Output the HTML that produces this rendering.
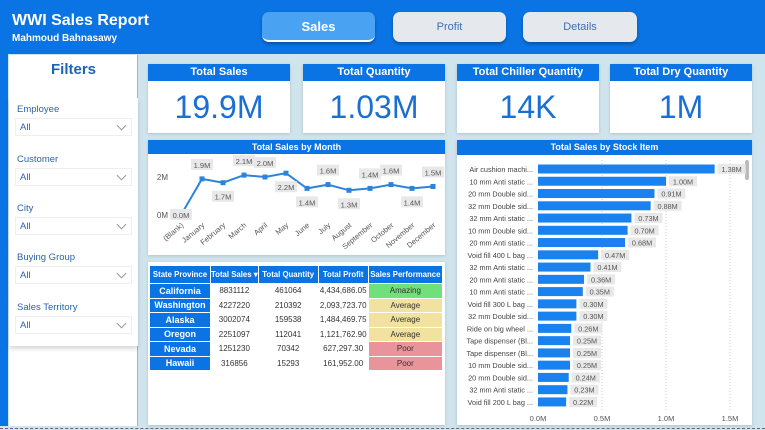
<!DOCTYPE html>
<html><head><meta charset="utf-8"><style>
*{box-sizing:border-box;margin:0;padding:0}
body{width:765px;height:430px;overflow:hidden;background:#cfe4ec;font-family:"Liberation Sans",sans-serif;position:relative}
.abs{position:absolute}
.hdr{left:0;top:0;width:765px;height:54px;background:#0a74e4}
.btn{top:12px;height:30px;border-radius:7px;font-size:11px;display:flex;align-items:center;justify-content:center;box-shadow:0 2px 3px rgba(0,0,0,.3)}
.card{background:#fff;box-shadow:0 1px 3px rgba(0,0,0,.15)}
.tbar{background:#0a74e4;color:#fff;font-weight:bold;text-align:center}
.kpi .tbar{height:17px;font-size:11px;line-height:17px}
.kpi .v{font-size:32px;color:#1b6fd1;text-align:center;margin-top:8px}
.slc{left:9px;width:129px;height:50px;background:#fff;box-shadow:0 3px 4px rgba(0,0,0,.15)}
.slc .l{position:absolute;left:8px;top:6px;font-size:9.5px;color:#2a62b0}
.slc .d{position:absolute;left:6px;top:20px;width:117px;height:18px;border:1px solid #eee;font-size:9.5px;color:#2a62b0;padding:3px 4px}
.slc .d:after{content:"";position:absolute;right:6px;top:3px;width:6px;height:6px;border-right:1px solid #999;border-bottom:1px solid #999;transform:rotate(45deg)}
table{border-collapse:separate;border-spacing:1px;font-size:8px}
td,th{height:13.5px;text-align:center;white-space:nowrap}
th{background:#0a74e4;color:#fff;font-weight:bold;height:17px;font-size:7.8px}
td.s{background:#0a74e4;color:#fff;font-weight:bold;font-size:9px}
td{color:#333}
</style></head><body>
<div class="abs hdr"></div>
<div class="abs" style="left:0;top:54px;width:8px;height:372px;background:#0a74e4"></div>
<div class="abs" style="left:12px;top:12px;color:#fff;font-weight:bold;font-size:16px">WWI Sales Report</div>
<div class="abs" style="left:12px;top:33px;color:#fff;font-weight:bold;font-size:10px">Mahmoud Bahnasawy</div>
<div class="abs btn" style="left:262px;width:113px;background:#4aa2f3;color:#fff;font-size:13px;font-weight:bold;border-bottom:2px solid #fff">Sales</div>
<div class="abs btn" style="left:393px;width:113px;background:#e5e8ec;color:#3d6fb5">Profit</div>
<div class="abs btn" style="left:523px;width:114px;background:#e5e8ec;color:#3d6fb5">Details</div>

<div class="abs" style="left:9px;top:55px;width:129px;height:371px;background:#fff;border-right:1px solid #aac"></div>
<div class="abs" style="left:9px;top:61px;width:129px;text-align:center;font-weight:bold;font-size:15px;color:#1f63b5">Filters</div>
<div class="abs slc" style="top:98px"><div class="l">Employee</div><div class="d">All</div></div>
<div class="abs slc" style="top:148px"><div class="l">Customer</div><div class="d">All</div></div>
<div class="abs slc" style="top:197px"><div class="l">City</div><div class="d">All</div></div>
<div class="abs slc" style="top:246px"><div class="l">Buying Group</div><div class="d">All</div></div>
<div class="abs slc" style="top:296px"><div class="l">Sales Territory</div><div class="d">All</div></div>

<div class="abs card kpi" style="left:148px;top:64px;width:142px;height:69px"><div class="tbar">Total Sales</div><div class="v">19.9M</div></div>
<div class="abs card kpi" style="left:303px;top:64px;width:142px;height:69px"><div class="tbar">Total Quantity</div><div class="v">1.03M</div></div>
<div class="abs card kpi" style="left:457px;top:64px;width:142px;height:69px"><div class="tbar">Total Chiller Quantity</div><div class="v">14K</div></div>
<div class="abs card kpi" style="left:610px;top:64px;width:142px;height:69px"><div class="tbar">Total Dry Quantity</div><div class="v">1M</div></div>

<div class="abs card" style="left:148px;top:140px;width:297px;height:115px">
<div class="tbar" style="height:14px;font-size:9px;line-height:14px">Total Sales by Month</div></div>
<svg class="abs" style="left:0;top:0" width="765" height="430" id="line"></svg>

<div class="abs card" style="left:148px;top:262px;width:297px;height:163px">
<table style="position:absolute;left:1px;top:3px;width:294px">
<tr><th style="width:60px">State Province</th><th style="width:45px">Total Sales ▾</th><th style="width:59px">Total Quantity</th><th style="width:49px">Total Profit</th><th>Sales Performance</th></tr>
<tr><td class="s">California</td><td>8831112</td><td>461064</td><td>4,434,686.05</td><td style="background:#6fe07a">Amazing</td></tr>
<tr><td class="s">Washington</td><td>4227220</td><td>210392</td><td>2,093,723.70</td><td style="background:#f2e2a0">Average</td></tr>
<tr><td class="s">Alaska</td><td>3002074</td><td>159538</td><td>1,484,469.75</td><td style="background:#f2e2a0">Average</td></tr>
<tr><td class="s">Oregon</td><td>2251097</td><td>112041</td><td>1,121,762.90</td><td style="background:#f2e2a0">Average</td></tr>
<tr><td class="s">Nevada</td><td>1251230</td><td>70342</td><td>627,297.30</td><td style="background:#e8949a">Poor</td></tr>
<tr><td class="s">Hawaii</td><td>316856</td><td>15293</td><td>161,952.00</td><td style="background:#e8949a">Poor</td></tr>
</table></div>

<div class="abs card" style="left:457px;top:140px;width:295px;height:285px">
<div class="tbar" style="height:15px;font-size:9px;line-height:15px">Total Sales by Stock Item</div>
<div class="abs" style="left:288px;top:20px;width:4px;height:20px;background:#bbb;border-radius:2px"></div></div>
<svg class="abs" style="left:0;top:0" width="765" height="430" id="bar"></svg>
<div class="abs" style="left:0;top:428px;width:765px;border-top:1px dashed #667"></div>

<script>
const months=["(Blank)","January","February","March","April","May","June","July","August","September","October","November","December"];
const monthSales=[0.0,1.9,1.7,2.1,2.0,2.2,1.4,1.6,1.3,1.4,1.6,1.4,1.5];
const monthLabelSide=[0,-1,1,-1,-1,1,1,-1,1,-1,-1,1,-1];
const items=["Air cushion machi...","10 mm Anti static ...","20 mm Double sid...","32 mm Double sid...","32 mm Anti static ...","10 mm Double sid...","20 mm Anti static ...","Void fill 400 L bag ...","32 mm Anti static ...","20 mm Anti static ...","10 mm Anti static ...","Void fill 300 L bag ...","32 mm Double sid...","Ride on big wheel ...","Tape dispenser (Bl...","Tape dispenser (Bl...","10 mm Double sid...","20 mm Double sid...","32 mm Anti static ...","Void fill 200 L bag ..."];
const itemSales=[1.38,1.00,0.91,0.88,0.73,0.70,0.68,0.47,0.41,0.36,0.35,0.30,0.30,0.26,0.25,0.25,0.25,0.24,0.23,0.22];
const xTicks=[0,0.5,1.0,1.5];
const NS="http://www.w3.org/2000/svg";
function mk(svg,t,a,txt){const e=document.createElementNS(NS,t);for(const k in a)e.setAttribute(k,a[k]);if(txt!==undefined)e.textContent=txt;svg.appendChild(e);return e;}
const L=document.getElementById('line');
const lx=i=>181+i*21, ly=v=>215-v*19;
[[0,"0M"],[2,"2M"]].forEach(t=>{const e=mk(L,'text',{x:168,y:ly(t[0])+3,'font-size':8,fill:'#555','text-anchor':'end'},t[1]);});
const pl=mk(L,'polyline',{points:monthSales.map((v,i)=>lx(i)+','+ly(v)).join(' '),fill:'none',stroke:'#2b84dc','stroke-width':2});

monthSales.forEach((v,i)=>{
 const p=mk(L,'rect',{x:lx(i)-2.5,y:ly(v)-2.5,width:5,height:5,fill:'#2b84dc'});
 
 const s=monthLabelSide[i];const cy=ly(v)+(s===0?0:s*14);const lab=v.toFixed(1)+'M';
 const bg=mk(L,'rect',{x:lx(i)-11,y:cy-6,width:22,height:11,fill:'#e8e8e8'});
 
 const t=mk(L,'text',{x:lx(i),y:cy+3,'font-size':7.5,fill:'#555','text-anchor':'middle'},lab);
 
 const m=mk(L,'text',{x:lx(i)+3,y:226,'font-size':7.5,fill:'#555','text-anchor':'end',transform:`rotate(-40 ${lx(i)+3} 226)`},months[i]);
 
});
const B=document.getElementById('bar');
const bx=v=>538+v*128, by=i=>169+i*12.26;
xTicks.forEach(t=>{
 if(t>0){const g=mk(B,'line',{x1:bx(t),x2:bx(t),y1:160,y2:410,stroke:'#ccc','stroke-dasharray':'1,2'});}
 const e=mk(B,'text',{x:bx(t),y:421,'font-size':7.5,fill:'#555','text-anchor':'middle'},t.toFixed(1)+'M');
 
});
items.forEach((n,i)=>{
 const y=by(i);
 const r=mk(B,'rect',{x:bx(0),y:y-4.5,width:bx(itemSales[i])-bx(0),height:9,fill:'#1a82ee'});
 
 const c=mk(B,'text',{x:533,y:y+3,'font-size':7.3,fill:'#444','text-anchor':'end'},n);
 
 const lx2=bx(itemSales[i])+3;
 const bg=mk(B,'rect',{x:lx2,y:y-5,width:28,height:10,fill:'#e8e8e8'});
 
 const v=mk(B,'text',{x:lx2+14,y:y+3,'font-size':7.3,fill:'#555','text-anchor':'middle'},itemSales[i].toFixed(2)+'M');
 
});
</script>
</body></html>
